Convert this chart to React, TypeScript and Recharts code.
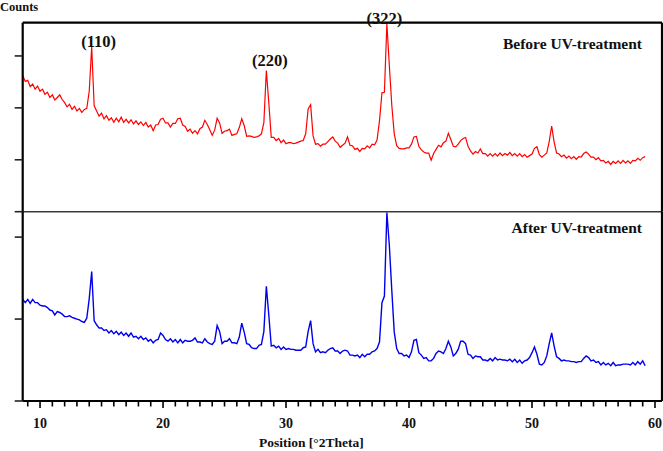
import { LineChart, Line, XAxis, YAxis, ReferenceDot } from "recharts";

// 2θ positions (degrees) shared by both scans
const twoTheta = [
  8.6, 8.8, 9.0, 9.2, 9.4, 9.6, 9.8, 10.0, 10.2, 10.4,
  10.6, 10.8, 11.0, 11.2, 11.4, 11.6, 11.8, 12.0, 12.2, 12.4,
  12.6, 12.8, 13.0, 13.2, 13.4, 13.6, 13.8, 14.0, 14.2, 14.4,
  14.6, 14.8, 15.0, 15.2, 15.4, 15.6, 15.8, 16.0, 16.2, 16.4,
  16.6, 16.8, 17.0, 17.2, 17.4, 17.6, 17.8, 18.0, 18.2, 18.4,
  18.6, 18.8, 19.0, 19.2, 19.4, 19.6, 19.8, 20.0, 20.2, 20.4,
  20.6, 20.8, 21.0, 21.2, 21.4, 21.6, 21.8, 22.0, 22.2, 22.4,
  22.6, 22.8, 23.0, 23.2, 23.4, 23.6, 23.8, 24.0, 24.2, 24.4,
  24.6, 24.8, 25.0, 25.2, 25.4, 25.6, 25.8, 26.0, 26.2, 26.4,
  26.6, 26.8, 27.0, 27.2, 27.4, 27.6, 27.8, 28.0, 28.2, 28.4,
  28.6, 28.8, 29.0, 29.2, 29.4, 29.6, 29.8, 30.0, 30.2, 30.4,
  30.6, 30.8, 31.0, 31.2, 31.4, 31.6, 31.8, 32.0, 32.2, 32.4,
  32.6, 32.8, 33.0, 33.2, 33.4, 33.6, 33.8, 34.0, 34.2, 34.4,
  34.6, 34.8, 35.0, 35.2, 35.4, 35.6, 35.8, 36.0, 36.2, 36.4,
  36.6, 36.8, 37.0, 37.2, 37.4, 37.6, 37.8, 38.0, 38.2, 38.4,
  38.6, 38.8, 39.0, 39.2, 39.4, 39.6, 39.8, 40.0, 40.2, 40.4,
  40.6, 40.8, 41.0, 41.2, 41.4, 41.6, 41.8, 42.0, 42.2, 42.4,
  42.6, 42.8, 43.0, 43.2, 43.4, 43.6, 43.8, 44.0, 44.2, 44.4,
  44.6, 44.8, 45.0, 45.2, 45.4, 45.6, 45.8, 46.0, 46.2, 46.4,
  46.6, 46.8, 47.0, 47.2, 47.4, 47.6, 47.8, 48.0, 48.2, 48.4,
  48.6, 48.8, 49.0, 49.2, 49.4, 49.6, 49.8, 50.0, 50.2, 50.4,
  50.6, 50.8, 51.0, 51.2, 51.4, 51.6, 51.8, 52.0, 52.2, 52.4,
  52.6, 52.8, 53.0, 53.2, 53.4, 53.6, 53.8, 54.0, 54.2, 54.4,
  54.6, 54.8, 55.0, 55.2, 55.4, 55.6, 55.8, 56.0, 56.2, 56.4,
  56.6, 56.8, 57.0, 57.2, 57.4, 57.6, 57.8, 58.0, 58.2, 58.4,
  58.6, 58.8, 59.0, 59.2,
];

const beforeUv = [
  262, 251, 253, 241, 246, 236, 242, 232, 236, 226,
  230, 220, 225, 215, 220, 225, 216, 210, 202, 207,
  197, 203, 194, 199, 191, 197, 199, 232, 318, 204,
  194, 184, 190, 179, 185, 176, 181, 172, 180, 173,
  182, 172, 178, 171, 177, 169, 175, 168, 173, 166,
  172, 163, 167, 156, 167, 168, 178, 180, 171, 171,
  163, 170, 170, 179, 180, 167, 164, 155, 159, 151,
  156, 150, 160, 163, 176, 168, 158, 147, 157, 180,
  171, 151, 155, 156, 159, 147, 149, 150, 162, 179,
  166, 145, 146, 145, 143, 144, 146, 150, 172, 272,
  210, 143, 143, 137, 141, 133, 138, 131, 133, 133,
  131, 132, 134, 136, 137, 150, 198, 206, 146, 130,
  131, 126, 130, 130, 135, 140, 144, 136, 132, 124,
  128, 132, 144, 128, 127, 120, 122, 116, 122, 121,
  127, 123, 130, 129, 138, 175, 229, 230, 362, 282,
  205, 150, 127, 122, 121, 121, 123, 123, 130, 144,
  145, 126, 119, 115, 113, 113, 99, 112, 120, 128,
  125, 133, 136, 151, 139, 126, 125, 130, 137, 141,
  143, 126, 117, 111, 116, 113, 121, 112, 112, 107,
  112, 107, 112, 107, 113, 108, 112, 109, 114, 108,
  112, 107, 112, 106, 110, 105, 108, 111, 122, 125,
  110, 105, 109, 113, 135, 165, 134, 113, 111, 106,
  109, 103, 107, 102, 106, 101, 106, 105, 112, 115,
  111, 105, 105, 100, 104, 98, 99, 94, 97, 91,
  97, 93, 98, 93, 99, 94, 98, 93, 99, 98,
  103, 99, 104, 106,
];

const afterUv = [
  124, 120, 124, 119, 124, 120, 120, 117, 116, 116,
  114, 111, 110, 105, 109, 108, 106, 103, 103, 104,
  102, 101, 100, 99, 97, 96, 101, 125, 158, 98,
  93, 89, 89, 86, 87, 83, 86, 82, 85, 81,
  84, 80, 83, 79, 83, 78, 79, 76, 79, 75,
  77, 73, 75, 71, 74, 75, 83, 80, 75, 73,
  76, 72, 75, 71, 75, 71, 74, 73, 73, 74,
  77, 72, 72, 71, 76, 72, 70, 69, 73, 92,
  85, 70, 73, 73, 76, 71, 71, 70, 78, 95,
  84, 70, 69, 65, 64, 64, 68, 69, 85, 140,
  105, 67, 68, 65, 67, 63, 66, 63, 64, 63,
  63, 62, 62, 62, 65, 66, 85, 98, 70, 60,
  63, 59, 60, 59, 62, 64, 65, 61, 61, 58,
  61, 62, 61, 56, 56, 55, 56, 53, 57, 54,
  57, 57, 60, 61, 64, 72, 120, 128, 230, 190,
  135, 84, 64, 58, 58, 55, 56, 53, 60, 74,
  75, 59, 56, 52, 53, 49, 49, 52, 58, 61,
  60, 58, 64, 73, 66, 55, 58, 63, 73, 73,
  70, 57, 56, 52, 55, 54, 54, 50, 50, 49,
  52, 49, 53, 50, 51, 50, 50, 49, 51, 48,
  51, 47, 50, 46, 49, 50, 53, 59, 66, 57,
  45, 44, 47, 55, 70, 83, 67, 54, 52, 49,
  50, 49, 49, 48, 48, 47, 48, 48, 52, 55,
  53, 49, 50, 47, 48, 44, 47, 44, 46, 43,
  47, 43, 44, 44, 45, 45, 45, 44, 47, 44,
  48, 45, 49, 43,
];

const xTicks = [
  9, 10, 11, 12, 13, 14, 15, 16, 17, 18, 19, 20, 21, 22, 23, 24, 25, 26,
  27, 28, 29, 30, 31, 32, 33, 34, 35, 36, 37, 38, 39, 40, 41, 42, 43, 44,
  45, 46, 47, 48, 49, 50, 51, 52, 53, 54, 55, 56, 57, 58, 59, 60,
];
const topTicks = [0, 100, 200, 300];
const bottomTicks = [0, 100, 200];

const peakLabels = ["(110)", "(220)", "(322)"];
const peakTheta = [14.12, 28.45, 38.25];
const peakCounts = [318, 277, 362];
const peakDx = [8, 3, -3];
const peakOffset = [0, 1.5, 0];

const data = twoTheta.map((t, i) => ({ t, before: beforeUv[i], after: afterUv[i] }));

const FONT = '"Liberation Serif", "Times New Roman", serif';
const W = 663;
const H = 451;
const X_DOMAIN: [number, number] = [8.59, 60.57];

const XTick = (props: any) => {
  const { x, y, payload } = props;
  const major = payload.value % 10 === 0;
  return (
    <g>
      <line x1={x} x2={x} y1={y} y2={y + (major ? 7 : 5.5)} stroke="#000" strokeWidth={1.6} />
      {major && (
        <text x={x} y={y + 27} textAnchor="middle" fontFamily={FONT} fontWeight="bold" fontSize={14} fill="#111">
          {payload.value}
        </text>
      )}
    </g>
  );
};

export default function App() {
  return (
    <div style={{ position: "absolute", left: 0, top: 0, width: W, height: H, background: "#fff" }}>
      {/* top panel: before UV */}
      <div style={{ position: "absolute", left: 0, top: 0 }}>
        <LineChart width={W} height={H} data={data} margin={{ top: 21.7, right: 0, bottom: 238.3, left: 0 }}>
          <XAxis
            xAxisId="top"
            orientation="top"
            dataKey="t"
            type="number"
            domain={X_DOMAIN}
            allowDataOverflow
            height={1}
            tick={false}
            tickLine={false}
            axisLine={{ stroke: "#000", strokeWidth: 2.2 }}
          />
          <XAxis
            xAxisId="b"
            dataKey="t"
            type="number"
            domain={X_DOMAIN}
            allowDataOverflow
            height={1}
            tick={false}
            tickLine={false}
            axisLine={{ stroke: "#3a3a3a", strokeWidth: 1.6 }}
          />
          <YAxis
            yAxisId="l"
            domain={[0, 364]}
            ticks={topTicks}
            allowDataOverflow
            width={22.7}
            tickSize={8}
            tickFormatter={() => ""}
            tickLine={{ stroke: "#222", strokeWidth: 1.6 }}
            axisLine={{ stroke: "#000", strokeWidth: 2.2 }}
          />
          <YAxis
            yAxisId="r"
            orientation="right"
            domain={[0, 364]}
            width={1}
            tick={false}
            tickLine={false}
            axisLine={{ stroke: "#000", strokeWidth: 2.2 }}
          />
          <Line
            xAxisId="b"
            yAxisId="l"
            type="linear"
            dataKey="before"
            stroke="#ff0000"
            strokeWidth={1.2}
            dot={false}
            isAnimationActive={false}
          />
          {peakLabels.map((lbl, i) => (
            <ReferenceDot
              key={lbl}
              xAxisId="b"
              yAxisId="l"
              x={peakTheta[i]}
              y={peakCounts[i]}
              r={0}
              fill="none"
              stroke="none"
              label={{
                value: lbl,
                position: "top",
                offset: peakOffset[i],
                dx: peakDx[i],
                fill: "#111",
                fontSize: 16.5,
                fontWeight: "bold",
                fontFamily: FONT,
              }}
            />
          ))}
        </LineChart>
      </div>

      {/* bottom panel: after UV */}
      <div style={{ position: "absolute", left: 0, top: 0 }}>
        <LineChart width={W} height={H} data={data} margin={{ top: 211.7, right: 0, bottom: 0, left: 0 }}>
          <XAxis
            dataKey="t"
            type="number"
            domain={X_DOMAIN}
            allowDataOverflow
            ticks={xTicks}
            interval={0}
            height={50}
            tickSize={0}
            tickMargin={0}
            tickLine={false}
            tick={<XTick />}
            axisLine={{ stroke: "#000", strokeWidth: 2.2 }}
            label={{
              value: "Position [°2Theta]",
              position: "insideBottom",
              offset: 4,
              dx: -31,
              fill: "#111",
              fontSize: 13.5,
              fontWeight: "bold",
              fontFamily: FONT,
            }}
          />
          <YAxis
            yAxisId="l"
            domain={[0, 231]}
            ticks={bottomTicks}
            allowDataOverflow
            width={22.7}
            tickSize={8}
            tickFormatter={() => ""}
            tickLine={{ stroke: "#222", strokeWidth: 1.6 }}
            axisLine={{ stroke: "#000", strokeWidth: 2.2 }}
          />
          <YAxis
            yAxisId="r"
            orientation="right"
            domain={[0, 231]}
            width={1}
            tick={false}
            tickLine={false}
            axisLine={{ stroke: "#000", strokeWidth: 2.2 }}
          />
          <Line
            yAxisId="l"
            type="linear"
            dataKey="after"
            stroke="#0000ee"
            strokeWidth={1.4}
            dot={false}
            isAnimationActive={false}
          />
        </LineChart>
      </div>

      {/* panel titles */}
      <svg width={W} height={H} style={{ position: "absolute", left: 0, top: 0, pointerEvents: "none" }}>
        <text x={0} y={10.7} fontFamily={FONT} fontWeight="bold" fontSize={12.5} fill="#111">
          Counts
        </text>
        <text x={642} y={48.5} textAnchor="end" fontFamily={FONT} fontWeight="bold" fontSize={15.5} fill="#111">
          Before UV-treatment
        </text>
        <text x={642} y={233.3} textAnchor="end" fontFamily={FONT} fontWeight="bold" fontSize={15.5} fill="#111">
          After UV-treatment
        </text>
      </svg>
    </div>
  );
}
